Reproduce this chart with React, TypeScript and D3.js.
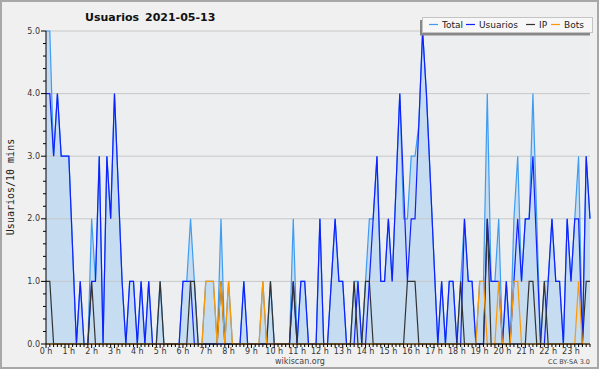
import React from 'react';
import * as d3 from 'd3';

// 10-minute slots, 0 h .. 23 h 50
const totalValues = [
  5, 5, 3, 4, 3, 3, 3, 1.5, 0, 1,
  0, 0, 2, 1, 3, 0, 3, 2, 4, 2.5,
  1, 0, 1, 1, 0, 1, 0, 1, 0, 0,
  1, 0, 0, 0, 0, 0, 1, 1, 2, 1,
  0, 0, 1, 1, 1, 0, 2, 0, 1, 0,
  0, 0, 1, 0, 0, 0, 0, 1, 0, 1,
  0, 0, 0, 0, 0, 2, 0, 1, 1, 0,
  0, 0, 2, 0, 0, 1, 2, 1, 1, 0,
  0, 1, 1, 0, 1, 2, 2, 3, 1, 1,
  2, 1, 2.5, 4, 2, 2, 3, 3, 3.5, 5,
  4, 2.67, 1.33, 0, 1, 0, 1, 1, 0, 1,
  2, 1, 1, 0, 1, 1, 4, 1, 1, 2,
  0, 1, 0, 2, 3, 1, 2, 2, 4, 2,
  0, 1, 1, 2, 1, 1, 0, 2, 1, 2,
  3, 0, 3, 2,
];

const usuariosValues = [
  4, 4, 3, 4, 3, 3, 3, 1.5, 0, 1,
  0, 0, 1, 1, 3, 0, 3, 2, 4, 2.5,
  1, 0, 1, 1, 0, 1, 0, 1, 0, 0,
  0, 0, 0, 0, 0, 0, 1, 1, 1, 0,
  0, 0, 0, 0, 0, 0, 0, 0, 0, 0,
  0, 0, 1, 0, 0, 0, 0, 0, 0, 0,
  0, 0, 0, 0, 0, 1, 0, 1, 1, 0,
  0, 0, 2, 0, 0, 1, 2, 1, 1, 0,
  0, 0, 1, 0, 0, 1, 2, 3, 1, 1,
  2, 1, 2.5, 4, 2.5, 1, 2, 2, 3.5, 5,
  4, 2.67, 1.33, 0, 1, 0, 1, 1, 0, 0,
  2, 1, 1, 0, 0, 0, 2, 1, 1, 1,
  0, 1, 0, 1, 2, 1, 2, 2, 3, 1.5,
  0, 0, 1, 2, 1, 1, 0, 2, 1, 2,
  2, 0, 3, 2,
];

const ipValues = [
  1, 1, 0, 0, 0, 0, 0, 0, 0, 0,
  0, 0, 1, 0, 0, 0, 0, 0, 0, 0,
  0, 0, 0, 0, 0, 0, 0, 0, 0, 0,
  1, 0, 0, 0, 0, 0, 0, 0, 1, 1,
  0, 0, 0, 0, 0, 0, 1, 0, 0, 0,
  0, 0, 0, 0, 0, 0, 0, 0, 0, 1,
  0, 0, 0, 0, 0, 1, 0, 0, 0, 0,
  0, 0, 0, 0, 0, 0, 0, 0, 0, 0,
  0, 1, 0, 0, 1, 1, 0, 0, 0, 0,
  0, 0, 0, 0, 0, 1, 1, 1, 0, 0,
  0, 0, 0, 0, 0, 0, 0, 0, 0, 1,
  0, 0, 0, 0, 0, 0, 2, 0, 0, 0,
  0, 0, 0, 0, 0, 0, 0, 1, 1, 0,
  0, 1, 0, 0, 0, 0, 0, 0, 0, 0,
  0, 0, 1, 1,
];

const botsValues = [
  0, 0, 0, 0, 0, 0, 0, 0, 0, 0,
  0, 0, 0, 0, 0, 0, 0, 0, 0, 0,
  0, 0, 0, 0, 0, 0, 0, 0, 0, 0,
  0, 0, 0, 0, 0, 0, 0, 0, 0, 0,
  0, 0, 1, 1, 1, 0, 1, 0, 1, 0,
  0, 0, 0, 0, 0, 0, 0, 1, 0, 0,
  0, 0, 0, 0, 0, 0, 0, 0, 0, 0,
  0, 0, 0, 0, 0, 0, 0, 0, 0, 0,
  0, 0, 0, 0, 0, 0, 0, 0, 0, 0,
  0, 0, 0, 0, 0, 0, 0, 0, 0, 0,
  0, 0, 0, 0, 0, 0, 0, 0, 0, 0,
  0, 0, 0, 0, 1, 1, 0, 0, 0, 1,
  0, 0, 0, 1, 1, 0, 0, 0, 0, 0,
  0, 0, 0, 0, 0, 0, 0, 0, 0, 0,
  1, 0, 0, 0,
];

const hourLabels = [
  '0 h', '1 h', '2 h', '3 h', '4 h', '5 h', '6 h', '7 h', '8 h', '9 h', '10 h', '11 h',
  '12 h', '13 h', '14 h', '15 h', '16 h', '17 h', '18 h', '19 h', '20 h', '21 h', '22 h', '23 h',
];
const yTickValues = [0, 1, 2, 3, 4, 5];
const legendNames = ['Total', 'Usuarios', 'IP', 'Bots'];

const COLORS = {
  total: '#3f9cf0',
  totalFill: '#c6dcf0',
  usuarios: '#1020ff',
  ip: '#333333',
  bots: '#ff9900',
};
const legendColors = [COLORS.total, COLORS.usuarios, COLORS.ip, COLORS.bots];
const legendX = [429, 466, 526, 551];

const SANS = '"DejaVu Sans", Verdana, sans-serif';
const MONO = '"DejaVu Sans Mono", monospace';

export default function App() {
  const n = totalValues.length;
  const x = d3.scaleLinear().domain([0, n - 1]).range([46, 590]);
  const y = d3.scaleLinear().domain([0, 5]).range([344, 31]);

  const lineGen = d3
    .line<number>()
    .x((_, i) => x(i))
    .y((d) => y(d));
  const areaGen = d3
    .area<number>()
    .x((_, i) => x(i))
    .y0(y(0))
    .y1((d) => y(d));

  const minorY = d3.range(0, 25).map((k) => k * 0.2).filter((v) => Math.abs(v - Math.round(v)) > 1e-6);
  const xTicks = d3.range(0, n);

  return (
    <svg
      width={600}
      height={370}
      style={{ position: 'absolute', left: 0, top: 0, display: 'block' }}
    >
      <rect x={0} y={0} width={600} height={370} fill="#ffffff" />
      <rect x={1} y={1} width={597} height={367} fill="#f0f0f0" stroke="#a8a8a8" strokeWidth={2} />

      {/* plot background */}
      <rect x={x(0)} y={y(5)} width={x(n - 1) - x(0)} height={y(0) - y(5)} fill="#eceef0" />

      {/* total area */}
      <path d={areaGen(totalValues) || ''} fill={COLORS.totalFill} />

      {/* grid */}
      {yTickValues.filter((v) => v > 0).map((v) => (
        <line key={v} x1={x(0)} x2={x(n - 1)} y1={y(v)} y2={y(v)} stroke="#c8c8c8" strokeWidth={1} />
      ))}

      {/* series lines */}
      <path d={lineGen(totalValues) || ''} fill="none" stroke={COLORS.total} strokeWidth={1.2} />
      <path d={lineGen(usuariosValues) || ''} fill="none" stroke={COLORS.usuarios} strokeWidth={1.2} />
      <path d={lineGen(ipValues) || ''} fill="none" stroke={COLORS.ip} strokeWidth={1.2} />
      <path d={lineGen(botsValues) || ''} fill="none" stroke={COLORS.bots} strokeWidth={1.2} />

      {/* y axis */}
      <line x1={x(0)} x2={x(0)} y1={y(5)} y2={y(0)} stroke="#000" strokeWidth={1} />
      {yTickValues.map((v) => (
        <g key={v}>
          <line x1={x(0) - 5} x2={x(0)} y1={y(v)} y2={y(v)} stroke="#000" strokeWidth={1} />
          <text
            x={x(0) - 6}
            y={y(v)}
            textAnchor="end"
            dominantBaseline="central"
            fontFamily={SANS}
            fontSize={8}
            fill="#333"
          >
            {v.toFixed(1)}
          </text>
        </g>
      ))}
      {minorY.map((v) => (
        <line key={v} x1={x(0) - 3} x2={x(0)} y1={y(v)} y2={y(v)} stroke="#000" strokeWidth={1} />
      ))}

      {/* x axis */}
      <line x1={x(0)} x2={x(n - 1)} y1={y(0)} y2={y(0)} stroke="#000" strokeWidth={1} />
      {xTicks.map((i) => (
        <line
          key={i}
          x1={x(i)}
          x2={x(i)}
          y1={y(0)}
          y2={y(0) + (i % 6 === 0 ? 4 : 3)}
          stroke="#000"
          strokeWidth={1}
        />
      ))}
      {hourLabels.map((lab, h) => (
        <text
          key={lab}
          x={x(h * 6)}
          y={354}
          textAnchor="middle"
          fontFamily={SANS}
          fontSize={8}
          fill="#333"
        >
          {lab}
        </text>
      ))}

      {/* y label */}
      <text
        transform="translate(14,187) rotate(-90)"
        textAnchor="middle"
        fontFamily={MONO}
        fontSize={10}
        fill="#222"
      >
        Usuarios/10 mins
      </text>

      {/* title */}
      <text x={85} y={21} fontFamily={SANS} fontSize={11} fontWeight="bold" fill="#111">
        Usuarios
      </text>
      <text x={145} y={21} fontFamily={SANS} fontSize={11} fontWeight="bold" fill="#111">
        2021-05-13
      </text>

      {/* legend */}
      <rect x={420} y={20} width={170} height={15.5} fill="#888" />
      <rect x={422.5} y={17.5} width={170} height={15} fill="#f7f7f7" stroke="#c4c4c4" strokeWidth={1} />
      {legendNames.map((name, k) => (
        <g key={name}>
          <line
            x1={legendX[k]}
            x2={legendX[k] + 9}
            y1={24.5}
            y2={24.5}
            stroke={legendColors[k]}
            strokeWidth={1.2}
          />
          <text x={legendX[k] + 13} y={28} fontFamily={SANS} fontSize={9} fill="#222">
            {name}
          </text>
        </g>
      ))}

      {/* footer */}
      <text x={300} y={364} textAnchor="middle" fontFamily={SANS} fontSize={8} fill="#444">
        wikiscan.org
      </text>
      <text x={590} y={364} textAnchor="end" fontFamily={SANS} fontSize={6.5} fill="#444">
        CC BY-SA 3.0
      </text>
    </svg>
  );
}
